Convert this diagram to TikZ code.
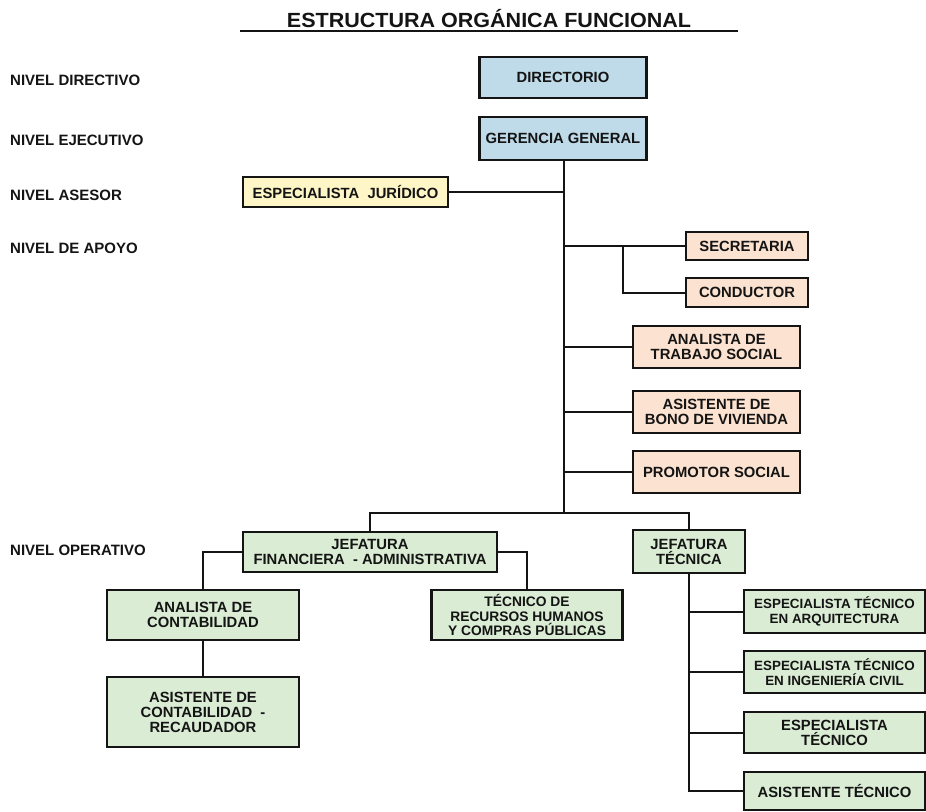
\documentclass[tikz,border=0pt]{standalone}
\usepackage{fontspec}
\usepackage{graphicx}
\setmainfont{Liberation Sans}
\definecolor{cblue}{RGB}{191,218,232}
\definecolor{cyel}{RGB}{255,246,200}
\definecolor{cpeach}{RGB}{252,226,208}
\definecolor{cgreen}{RGB}{218,236,212}
\definecolor{cline}{RGB}{20,20,20}
\begin{document}
\begin{tikzpicture}[x=1pt,y=-1pt,
  box/.style={draw=cline,line width=2.2pt,align=center,inner sep=0pt,text=cline,
    font=\bfseries\fontsize{14.8}{15}\selectfont},
  smallbox/.style={box,font=\bfseries\fontsize{13.4}{15}\selectfont},
  lvl/.style={anchor=west,inner sep=0pt,text=cline,font=\bfseries\fontsize{15}{16}\selectfont},
  conn/.style={draw=cline,line width=2pt}]
\useasboundingbox (0,0) rectangle (926,811);
\fill[white] (0,0) rectangle (926,811);

% title
\node[inner sep=0pt,text=cline,font=\bfseries\fontsize{20.5}{22}\selectfont] (title) at (489,19) {\scalebox{1.05}[1]{ESTRUCTURA ORGÁNICA FUNCIONAL}};
\coordinate (ulA) at (240,31);
\coordinate (ulB) at (738,31);
\draw[conn,line width=1.5pt] (ulA) -- (ulB);

% levels
\node[lvl] (l1) at (10,80) {NIVEL DIRECTIVO};
\node[lvl] (l2) at (10,140) {NIVEL EJECUTIVO};
\node[lvl] (l3) at (10,195) {NIVEL ASESOR};
\node[lvl] (l4) at (10,248) {NIVEL DE APOYO};
\node[lvl] (l5) at (10,550) {NIVEL OPERATIVO};

% boxes
\node[box,fill=cblue,minimum width=167pt,minimum height=41pt] (dir) at (563,77.5) {DIRECTORIO};
\node[box,fill=cblue,minimum width=167pt,minimum height=43pt] (ger) at (563,138.5) {GERENCIA GENERAL};
\node[box,fill=cyel,minimum width=205pt,minimum height=30pt] (jur) at (345.5,192) {ESPECIALISTA\ \ JURÍDICO};
\node[box,fill=cpeach,minimum width=122pt,minimum height=28pt] (sec) at (747,246) {SECRETARIA};
\node[box,fill=cpeach,minimum width=122pt,minimum height=29pt] (con) at (747,292.5) {CONDUCTOR};
\node[box,fill=cpeach,minimum width=167pt,minimum height=42pt] (ats) at (716.5,347) {ANALISTA DE\\TRABAJO SOCIAL};
\node[box,fill=cpeach,minimum width=167pt,minimum height=42pt] (abv) at (716.5,412) {ASISTENTE DE\\BONO DE VIVIENDA};
\node[box,fill=cpeach,minimum width=167pt,minimum height=42pt] (pro) at (716.5,472) {PROMOTOR SOCIAL};

\node[box,fill=cgreen,minimum width=254pt,minimum height=40pt] (jfa) at (370,552) {JEFATURA\\FINANCIERA\ \ - ADMINISTRATIVA};
\node[box,fill=cgreen,minimum width=112pt,minimum height=43pt] (jt) at (689,551.5) {JEFATURA\\TÉCNICA};
\node[box,fill=cgreen,minimum width=192pt,minimum height=50pt] (ac) at (203,615) {ANALISTA DE\\CONTABILIDAD};
\node[box,fill=cgreen,minimum width=192pt,minimum height=70pt] (acr) at (203,712) {ASISTENTE DE\\CONTABILIDAD\ \ -\\RECAUDADOR};
\node[smallbox,fill=cgreen,minimum width=191pt,minimum height=50pt,font=\bfseries\fontsize{13.8}{14.5}\selectfont] (trh) at (527,615) {TÉCNICO DE\\RECURSOS HUMANOS\\Y COMPRAS PÚBLICAS};
\node[smallbox,fill=cgreen,minimum width=181pt,minimum height=43pt] (eta) at (834.5,611.5) {ESPECIALISTA TÉCNICO\\EN ARQUITECTURA};
\node[smallbox,fill=cgreen,minimum width=181pt,minimum height=42pt] (eti) at (834.5,672) {ESPECIALISTA TÉCNICO\\EN INGENIERÍA CIVIL};
\node[box,fill=cgreen,minimum width=181pt,minimum height=41pt] (et) at (834.5,732.5) {ESPECIALISTA\\TÉCNICO};
\node[box,fill=cgreen,minimum width=181pt,minimum height=38pt] (ast) at (834.5,791) {ASISTENTE TÉCNICO};

% connectors
\coordinate (bar) at (564,513);
\coordinate (br) at (623,0);
\draw[conn] (ger.south -| bar) -- (bar);
\draw[conn] (jur.east) -- (jur.east -| bar);
\draw[conn] (sec.west) -- (sec.west -| bar);
\draw[conn] (con.west) -- (con.west -| br) -- (br |- sec.west);
\draw[conn] (ats.west) -- (ats.west -| bar);
\draw[conn] (abv.west) -- (abv.west -| bar);
\draw[conn] (pro.west) -- (pro.west -| bar);
\draw[conn] (jfa.north) -- (jfa.north |- bar) -- (jt.north |- bar) -- (jt.north);
\draw[conn] (jfa.west) -| (ac.north);
\draw[conn] (jfa.east) -| (trh.north);
\draw[conn] (ac.south) -- (acr.north);
\draw[conn] (jt.south) |- (ast.west);
\draw[conn] (eta.west) -- (eta.west -| jt.south);
\draw[conn] (eti.west) -- (eti.west -| jt.south);
\draw[conn] (et.west) -- (et.west -| jt.south);
\end{tikzpicture}
\end{document}
